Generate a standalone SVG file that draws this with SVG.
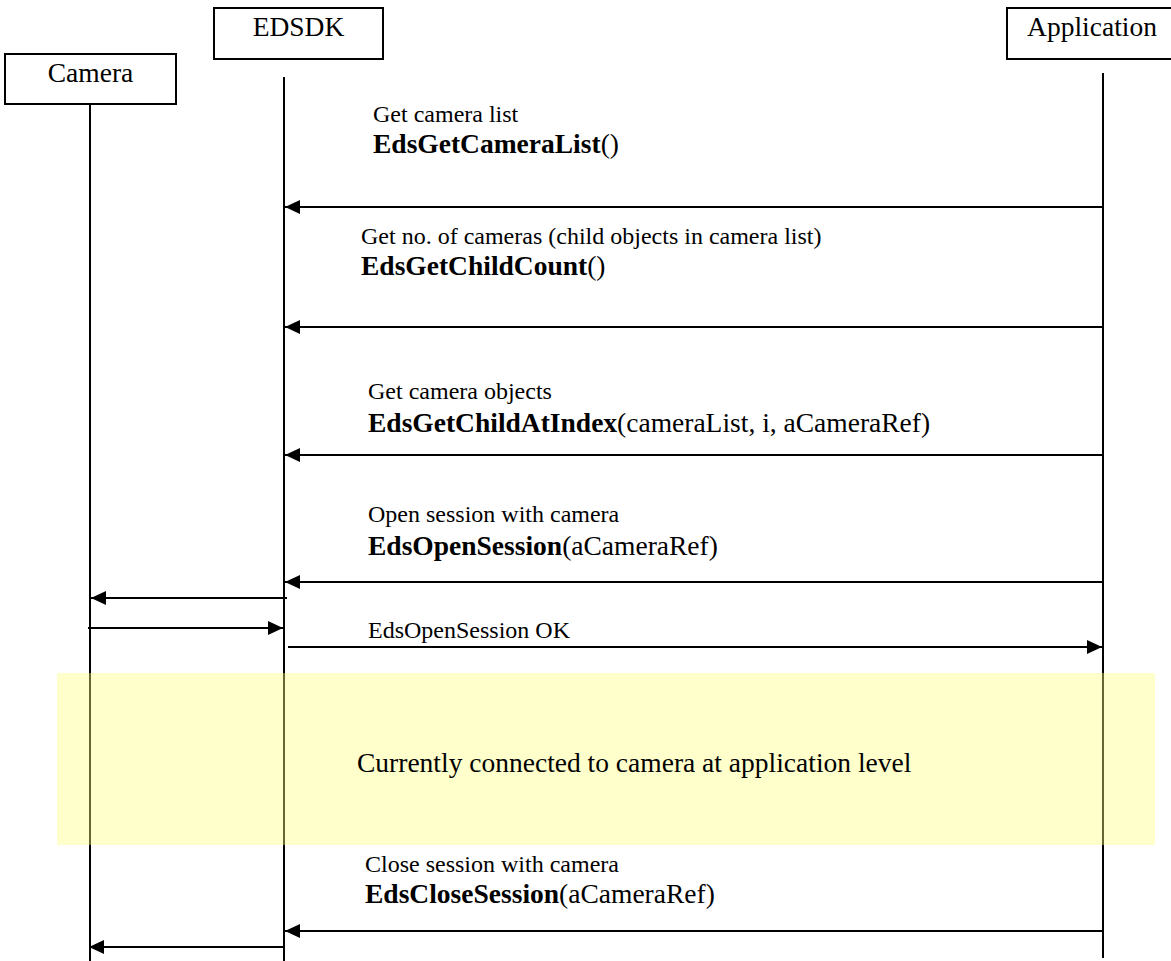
<svg xmlns="http://www.w3.org/2000/svg" width="1171" height="961" viewBox="0 0 1171 961">
<style>
  text { font-family: "Liberation Serif", "Times New Roman", serif; fill: #000; }
  .box { fill: #fff; stroke: #000; stroke-width: 2; }
  .lbl { font-size: 27.5px; text-anchor: middle; }
  .life { stroke: #000; stroke-width: 2; fill: none; }
  .msg { stroke: #000; stroke-width: 2; fill: none; marker-end: url(#arr); }
  .small { font-size: 24px; }
  .big { font-size: 27.5px; }
  .b { font-weight: bold; }
  .note { fill: #ffff80; fill-opacity: 0.4; stroke: none; }
</style>
<defs>
  <marker id="arr" markerUnits="userSpaceOnUse" markerWidth="16" markerHeight="14" refX="15" refY="7" orient="auto">
    <path d="M0,0 L15,7 L0,14 z" fill="#000"/>
  </marker>
</defs>
<rect width="1171" height="961" fill="#fff"/>

<g id="lifelines">
  <line class="life" x1="90" y1="104" x2="90" y2="961"/>
  <line class="life" x1="284" y1="77" x2="284" y2="961"/>
  <line class="life" x1="1103" y1="73" x2="1103" y2="958"/>
</g>

<g id="camera">
  <rect class="box" x="5" y="54" width="171" height="50"/>
  <text class="lbl" x="90.5" y="82">Camera</text>
</g>
<g id="edsdk">
  <rect class="box" x="214" y="8" width="169" height="51"/>
  <text class="lbl" x="298.5" y="36">EDSDK</text>
</g>
<g id="application">
  <rect class="box" x="1007" y="8" width="170" height="51"/>
  <text class="lbl" x="1092" y="36">Application</text>
</g>

<g id="connectors">
  <line class="msg" x1="1103" y1="207" x2="285" y2="207"/>
  <line class="msg" x1="1103" y1="327" x2="285" y2="327"/>
  <line class="msg" x1="1103" y1="455" x2="285" y2="455"/>
  <line class="msg" x1="1103" y1="582" x2="285" y2="582"/>
  <line class="msg" x1="287" y1="598" x2="91" y2="598"/>
  <line class="msg" x1="88" y1="628" x2="283" y2="628"/>
  <line class="msg" x1="288" y1="647" x2="1102" y2="647"/>
  <line class="msg" x1="1103" y1="931" x2="285" y2="931"/>
  <line class="msg" x1="284" y1="947" x2="89" y2="947"/>
</g>

<g id="labels">
  <text class="small" x="373" y="122">Get camera list</text>
  <text class="big" x="373" y="153"><tspan class="b">EdsGetCameraList</tspan>()</text>
  <text class="small" x="361" y="244">Get no. of cameras (child objects in camera list)</text>
  <text class="big" x="361" y="275"><tspan class="b">EdsGetChildCount</tspan>()</text>
  <text class="small" x="368" y="399">Get camera objects</text>
  <text class="big" x="368" y="432"><tspan class="b">EdsGetChildAtIndex</tspan>(cameraList, i, aCameraRef)</text>
  <text class="small" x="368" y="522">Open session with camera</text>
  <text class="big" x="368" y="555"><tspan class="b">EdsOpenSession</tspan>(aCameraRef)</text>
  <text class="small" x="368" y="638">EdsOpenSession OK</text>
  <text class="small" x="365" y="872">Close session with camera</text>
  <text class="big" x="365" y="903"><tspan class="b">EdsCloseSession</tspan>(aCameraRef)</text>
</g>

<g id="connected-note">
  <rect class="note" x="57" y="673" width="1098" height="172"/>
  <text class="big" x="357" y="772">Currently connected to camera at application level</text>
</g>
</svg>
